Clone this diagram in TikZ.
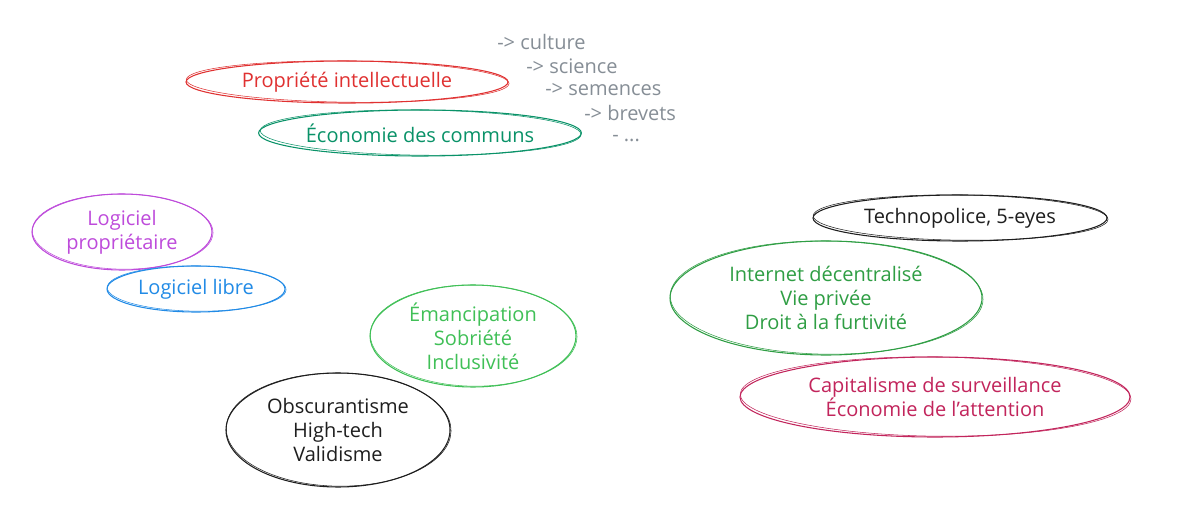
\documentclass[tikz,border=0pt]{standalone}
\usepackage{fontspec}
\setmainfont{Open Sans}
\usetikzlibrary{shapes.geometric}
\definecolor{cred}{HTML}{E03131}
\definecolor{cteal}{HTML}{099268}
\definecolor{cgray}{HTML}{868E96}
\definecolor{cpurple}{HTML}{BE4BDB}
\definecolor{cblue}{HTML}{228BE6}
\definecolor{clgreen}{HTML}{40C057}
\definecolor{cgreen}{HTML}{2F9E44}
\definecolor{ccrim}{HTML}{C2255C}
\definecolor{cblack}{HTML}{1E1E1E}
\tikzset{
  ell/.style={ellipse, inner sep=0pt, line width=0.8pt, align=center,
    font=\fontsize{15}{18}\selectfont},
  sketch/.style={line width=0.4pt},
  listtxt/.style={anchor=west, inner sep=0pt, text=cgray, font=\fontsize{15}{18}\selectfont}
}
% name, x, y, rx, ry, colour, text
\newcommand\skell[7]{%
  \node[ell, draw=#6, text=#6, minimum width={1.5pt*#4}, minimum height={1.5pt*#5}] (#1) at (#2,#3) {#7};
  \draw[sketch, #6, rotate around={-0.7:(#1.center)}] ([xshift=0.5pt,yshift=0.3pt]#1.center) ellipse [x radius={0.75pt*#4+0.3pt}, y radius={0.75pt*#5-0.3pt}];
}
\begin{document}
\begin{tikzpicture}[x=0.75pt,y=-0.75pt]
\useasboundingbox[fill=white] (0,0) rectangle (1177,516);
\skell{pi}{347}{82}{161}{21}{cred}{Propriété intellectuelle}
\skell{ec}{420}{133}{160}{23}{cteal}{Économie des communs}
\node[listtxt] (l1) at (497,42) {-> culture};
\node[listtxt] (l2) at (526,66) {-> science};
\node[listtxt] (l3) at (545,90) {-> semences};
\node[listtxt] (l4) at (584,113) {-> brevets};
\node[listtxt] (l5) at (612,139) {- ...};
\skell{lp}{122}{232}{90}{38}{cpurple}{Logiciel\\propriétaire}
\skell{ll}{196}{289}{89}{23}{cblue}{Logiciel libre}
\skell{em}{473}{336}{103}{51}{clgreen}{Émancipation\\Sobriété\\Inclusivité}
\skell{ob}{338}{430}{112}{57}{cblack}{Obscurantisme\\High-tech\\Validisme}
\skell{tp}{960}{218}{147}{23}{cblack}{Technopolice, 5-eyes}
\skell{id}{826}{298}{156}{57}{cgreen}{Internet décentralisé\\Vie privée\\Droit à la furtivité}
\skell{cs}{935}{397}{195}{40}{ccrim}{Capitalisme de surveillance\\Économie de l'attention}
\end{tikzpicture}
\end{document}
